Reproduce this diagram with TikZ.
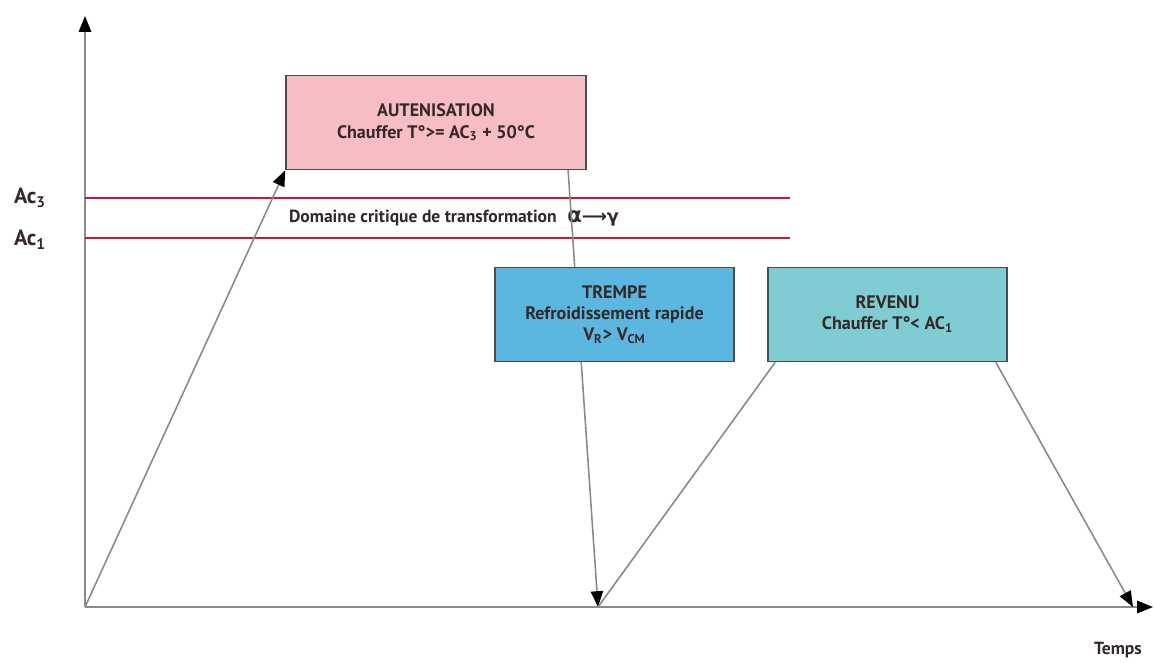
\documentclass[tikz,border=0pt]{standalone}
\usepackage{fontspec}
\setmainfont{PT Sans}
\newfontfamily\greekfont{DejaVu Sans}
\usetikzlibrary{shapes,arrows.meta}
\usetikzlibrary{calc}
\usepackage{amsmath}

\definecolor{axisgray}{HTML}{8A8A8A}
\definecolor{critred}{HTML}{C8163F}
\definecolor{autenpink}{HTML}{F7BDC5}
\definecolor{trempeblue}{HTML}{5CB7E0}
\definecolor{revenuteal}{HTML}{80CCD3}
\definecolor{boxtext}{HTML}{352828}

\begin{document}
\begin{tikzpicture}[x=0.02cm,y=-0.02cm,line width=1.1pt,
		stage/.style={draw=black!70,line width=0.9pt,align=center,text=boxtext,
			font=\bfseries\fontsize{10.3}{12}\selectfont,minimum height=1.88cm},
		ramp/.style={draw=axisgray,line width=0.9pt,-{Triangle[black,length=9pt,width=7pt]}}]
			\useasboundingbox (0,0) rectangle (1155,662);
			% axes
			\coordinate (O) at (85,607);
			\coordinate (Ytop) at (85,16);
			\coordinate (Xend) at (1153,607);
			\draw[axisgray,-{Triangle[black,length=9pt,width=7pt]}] (O) -- (Ytop);
			\draw[axisgray,-{Triangle[black,length=9pt,width=7pt]}] (O) -- (Xend);
			% critical lines
			\coordinate (Ac3L) at (85,198);
			\coordinate (Ac3R) at (790,198);
			\coordinate (Ac1L) at (85,238);
			\coordinate (Ac1R) at (790,238);
			\draw[critred,line width=1.6pt] (Ac3L) -- (Ac3R);
			\draw[critred,line width=1.6pt] (Ac1L) -- (Ac1R);
			\node [font=\bfseries\fontsize{12.5}{14}\selectfont,text=boxtext] (Ac3) at (30,198) {Ac\textsubscript{3}};
			\node [font=\bfseries\fontsize{12.5}{14}\selectfont,text=boxtext] (Ac1) at (30,240) {Ac\textsubscript{1}};
			\node [font=\bfseries\fontsize{10}{12}\selectfont,text=boxtext] (Domaine) at (454,218)
				{Domaine critique de transformation\hspace{6pt}{\greekfont\fontsize{12}{12}\selectfont α}{\greekfont\bfseries ⟶γ}};
			% stages
			\coordinate (TrempeTop) at (568,169);
			\coordinate (TrempeEnd) at (598,607);
			\draw[ramp] (TrempeTop) -- (TrempeEnd);
			\node [stage,fill=autenpink,minimum width=6cm] (Auten) at (436,122.5)
				{AUTENISATION\\Chauffer T°>= AC\textsubscript{3} + 50°C};
			\node [stage,fill=trempeblue,minimum width=4.78cm] (Trempe) at (614.5,314.5)
				{TREMPE\\Refroidissement rapide\\V\textsubscript{R}> V\textsubscript{CM}};
			\node [stage,fill=revenuteal,minimum width=4.78cm] (Revenu) at (887.5,314.5)
				{REVENU\\Chauffer T°< AC\textsubscript{1}};
			\draw[ramp] (O) -- (Auten.south west);
			\draw[draw=axisgray,line width=0.9pt] (TrempeEnd) -- ($(Revenu.south west)+(8,0)$);
			\coordinate (RevenuEnd) at (1133,607);
			\draw[ramp] ($(Revenu.south east)+(-12,0)$) -- (RevenuEnd);
			\node [font=\bfseries\fontsize{10}{12}\selectfont,text=boxtext] (Temps) at (1118,650) {Temps};
		\end{tikzpicture}
\end{document}
